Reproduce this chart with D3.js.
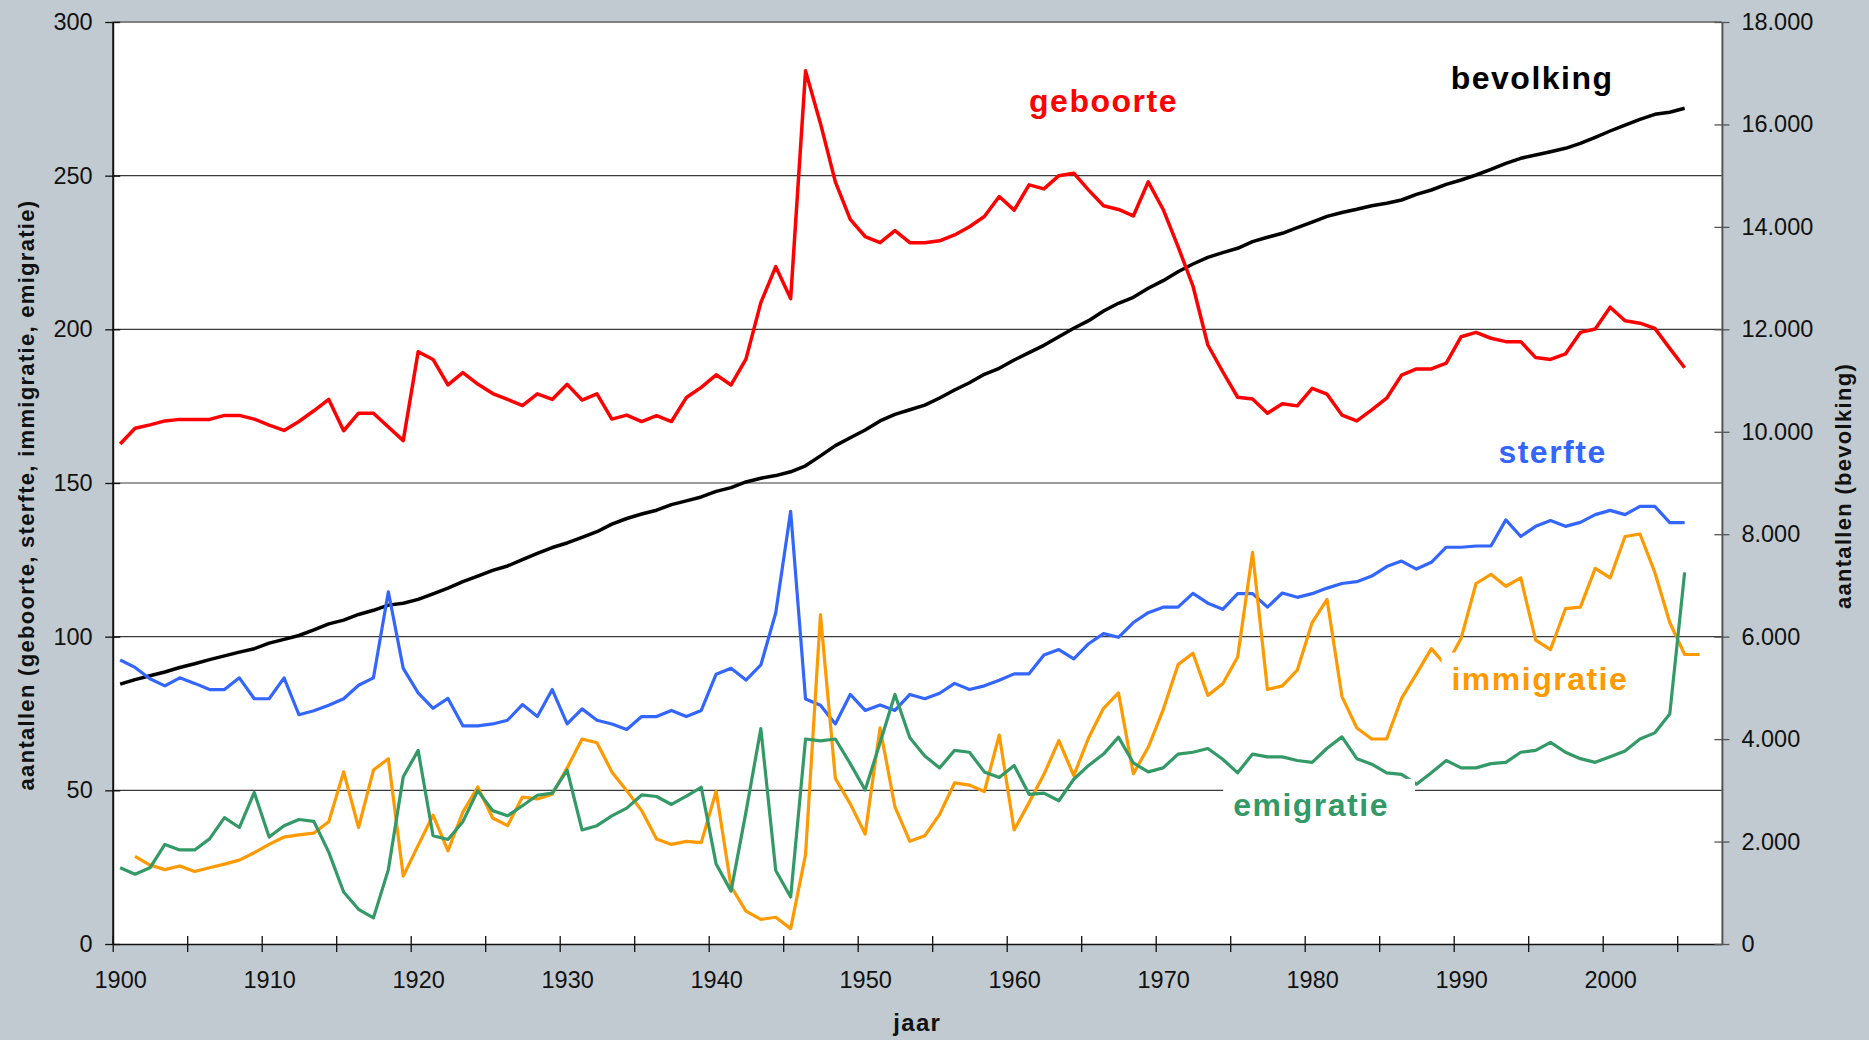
<!DOCTYPE html>
<html>
<head>
<meta charset="utf-8">
<script src="https://cdn.jsdelivr.net/npm/d3@7"></script>
<style>
  body { margin: 0; background: #c0cad0; }
  svg { display: block; font-family: "Liberation Sans", Arial, Helvetica, sans-serif; }
</style>
</head>
<body>
<div id="chart"></div>
<script>
// jaren 1900 t/m 2006 (categorie-as)
const firstYear = 1900;
const lastYear = 2007;

// geboorte, duizendtallen (1900-2005)
const geboorte = [
    162.7, 167.8, 168.9, 170.2, 170.7, 170.7, 170.7, 172.0, 172.0, 170.8,
    168.8, 167.1, 170.0, 173.5, 177.2, 167.0, 172.7, 172.7, 168.2, 163.8,
    192.7, 190.2, 181.9, 185.9, 182.2, 179.1, 177.2, 175.2, 179.0, 177.2,
    182.1, 177.0, 179.0, 170.8, 172.1, 170.0, 171.9, 170.0, 177.8, 181.1,
    185.2, 181.9, 190.3, 208.7, 220.4, 210.0, 284.1, 267.0, 248.0, 235.8,
    230.2, 228.2, 232.1, 228.2, 228.2, 228.8, 230.7, 233.4, 236.7, 243.2,
    238.8, 247.0, 245.7, 250.0, 250.8, 245.3, 240.2, 239.0, 236.9, 248.0,
    239.0, 226.9, 214.1, 194.9, 186.2, 177.9, 177.3, 172.7, 175.8, 175.1,
    180.8, 178.9, 172.1, 170.2, 173.8, 177.6, 185.1, 187.1, 187.1, 189.0,
    197.6, 199.0, 197.1, 196.0, 196.0, 190.8, 190.2, 192.0, 199.0, 200.1,
    207.2, 202.8, 202.0, 200.3, 193.8, 187.5
];

// sterfte (1900-2005)
const sterfte = [
    92.4, 90.0, 86.3, 84.0, 86.6, 84.8, 82.8, 82.8, 86.6, 79.8,
    79.8, 86.6, 74.6, 75.9, 77.7, 79.8, 84.2, 86.6, 114.6, 89.7,
    81.7, 76.7, 79.9, 71.0, 71.0, 71.6, 72.8, 77.9, 74.0, 82.8,
    71.6, 76.5, 72.8, 71.6, 69.8, 74.0, 74.0, 76.0, 74.0, 76.0,
    87.8, 89.7, 85.9, 90.8, 107.8, 140.8, 79.7, 77.7, 71.6, 81.2,
    76.0, 77.8, 76.0, 81.2, 79.8, 81.6, 84.8, 82.8, 84.0, 85.8,
    87.9, 87.9, 94.0, 95.8, 92.8, 97.7, 101.0, 99.8, 104.6, 107.8,
    109.6, 109.6, 114.1, 110.9, 108.9, 114.0, 114.0, 109.6, 114.2, 112.8,
    114.0, 115.8, 117.3, 117.9, 119.7, 122.8, 124.6, 122.0, 124.2, 129.1,
    129.1, 129.5, 129.5, 138.0, 132.6, 135.9, 137.8, 135.9, 137.2, 139.7,
    141.1, 139.7, 142.4, 142.4, 137.1, 137.1
];

// immigratie (1900-2006, geen waarde voor 1900)
const immigratie = [
    null, 28.5, 25.7, 24.2, 25.4, 23.6, 24.8, 26.0, 27.3, 29.7,
    32.4, 34.8, 35.5, 36.1, 39.8, 56.0, 37.9, 56.6, 60.3, 22.1,
    32.1, 41.9, 30.3, 42.9, 51.1, 41.0, 38.5, 47.8, 47.2, 48.7,
    57.3, 66.7, 65.5, 56.0, 49.9, 43.4, 34.2, 32.4, 33.4, 33.0,
    49.7, 18.7, 10.7, 8.0, 8.7, 5.0, 29.1, 107.2, 53.9, 45.6,
    35.8, 70.3, 44.6, 33.4, 35.2, 42.2, 52.4, 51.7, 49.6, 68.0,
    37.1, 46.0, 55.2, 66.2, 54.8, 67.1, 76.7, 81.7, 55.4, 64.0,
    76.2, 90.9, 94.6, 80.9, 84.7, 93.4, 127.4, 82.8, 84.0, 89.1,
    104.6, 112.1, 80.5, 70.3, 66.7, 66.7, 79.9, 87.9, 96.1, 90.5,
    99.5, 117.3, 120.3, 116.4, 119.1, 98.9, 95.8, 109.1, 109.6, 122.2,
    119.1, 132.6, 133.4, 120.9, 104.6, 94.2, 94.2
];

// emigratie (1900-2005)
const emigratie = [
    24.8, 22.7, 24.8, 32.4, 30.6, 30.6, 34.2, 41.1, 37.9, 49.3,
    34.8, 38.5, 40.5, 39.9, 29.9, 16.9, 11.3, 8.5, 24.2, 54.4,
    63.0, 35.2, 34.0, 39.8, 49.9, 43.4, 41.7, 45.0, 48.4, 49.1,
    56.6, 37.1, 38.5, 41.7, 44.2, 48.5, 48.0, 45.4, 48.1, 51.0,
    26.0, 17.2, 42.9, 70.1, 23.9, 15.3, 66.7, 66.1, 66.7, 58.7,
    50.1, 65.5, 81.2, 67.1, 61.2, 57.3, 63.0, 62.4, 56.0, 54.2,
    58.1, 48.7, 49.1, 46.6, 53.6, 58.1, 61.8, 67.3, 58.9, 56.0,
    57.3, 61.8, 62.4, 63.6, 60.1, 55.7, 61.8, 60.9, 60.9, 59.7,
    59.1, 63.7, 67.4, 60.3, 58.5, 55.7, 55.2, 52.0, 55.7, 59.7,
    57.3, 57.3, 58.7, 59.1, 62.4, 63.0, 65.6, 62.4, 60.3, 59.1,
    60.9, 62.8, 66.7, 68.7, 74.8, 120.9
];

// bevolking, duizendtallen (1900-2005)
const bevolking = [
    5074, 5162, 5236, 5310, 5398, 5471, 5552, 5625, 5699, 5765,
    5874, 5948, 6023, 6132, 6249, 6323, 6433, 6515, 6616, 6653,
    6728, 6837, 6948, 7073, 7183, 7294, 7380, 7505, 7624, 7740,
    7829, 7940, 8049, 8198, 8307, 8395, 8469, 8578, 8652, 8727,
    8836, 8910, 9020, 9094, 9145, 9219, 9336, 9530, 9729, 9885,
    10035, 10211, 10341, 10430, 10520, 10660, 10816, 10958, 11122, 11239,
    11401, 11544, 11688, 11857, 12021, 12169, 12358, 12508, 12625, 12801,
    12950, 13125, 13276, 13406, 13497, 13582, 13711, 13797, 13875, 13984,
    14092, 14206, 14281, 14344, 14414, 14461, 14525, 14636, 14720, 14831,
    14916, 15013, 15124, 15241, 15339, 15404, 15468, 15534, 15632, 15749,
    15872, 15989, 16100, 16198, 16237, 16315
];

const xTickLabels = ["1900", "1910", "1920", "1930", "1940", "1950", "1960", "1970", "1980", "1990", "2000"];
const leftTicks = [0, 50, 100, 150, 200, 250, 300];
const rightTicks = [0, 2000, 4000, 6000, 8000, 10000, 12000, 14000, 16000, 18000];
const rightTickLabels = ["0", "2.000", "4.000", "6.000", "8.000", "10.000", "12.000", "14.000", "16.000", "18.000"];

function draw_chart() {

    let width = 1869, height = 1040;
    let plot = {left: 112.7, right: 1721.9, top: 22, bottom: 944};

    let svg = d3.select("#chart")
        .append("svg")
        .attr("width", width)
        .attr("height", height);

    svg.append("rect")
        .attr("width", width)
        .attr("height", height)
        .attr("fill", "#c0cad0");

    // category axis: each year is one slot, points in the middle
    let x = d3.scaleLinear()
        .domain([firstYear, lastYear + 1])
        .range([plot.left, plot.right]);

    let y = d3.scaleLinear()
        .domain([0, 300])
        .range([plot.bottom, plot.top]);

    let y2 = d3.scaleLinear()
        .domain([0, 18000])
        .range([plot.bottom, plot.top]);

    svg.append("rect")
        .attr("x", plot.left)
        .attr("y", plot.top)
        .attr("width", plot.right - plot.left)
        .attr("height", plot.bottom - plot.top)
        .attr("fill", "#ffffff");

    // gridlines
    svg.append("g")
        .selectAll("line")
        .data(leftTicks.filter(d => d > 0))
        .enter()
        .append("line")
        .attr("x1", plot.left)
        .attr("x2", plot.right)
        .attr("y1", d => y(d))
        .attr("y2", d => y(d))
        .attr("stroke", d => d === 300 ? "#808080" : "#3a3a3a")
        .attr("stroke-width", d => d === 300 ? 2 : 1.2);

    // lines
    let series = [
        {name: "bevolking", values: bevolking, color: "#000000", width: 3.5, scale: y2},
        {name: "geboorte", values: geboorte, color: "#ff0000", width: 3.5, scale: y},
        {name: "sterfte", values: sterfte, color: "#3366ff", width: 3.2, scale: y},
        {name: "immigratie", values: immigratie, color: "#ff9900", width: 3.2, scale: y},
        {name: "emigratie", values: emigratie, color: "#339966", width: 3.2, scale: y}
    ];

    series.forEach(function (s) {
        let line = d3.line()
            .defined(d => d != null)
            .x((d, i) => x(firstYear + i + 0.5))
            .y(d => s.scale(d));
        svg.append("path")
            .datum(s.values)
            .attr("fill", "none")
            .attr("stroke", s.color)
            .attr("stroke-width", s.width)
            .attr("stroke-linejoin", "round")
            .attr("d", line);
    });

    // x axis ticks (every 5 years) and labels (decades)
    let xAxis = svg.append("g")
        .attr("transform", "translate(0," + plot.bottom + ")")
        .call(d3.axisBottom(x)
            .tickValues(d3.range(firstYear, 2006, 5))
            .tickFormat("")
            .tickSizeInner(8)
            .tickSizeOuter(0));
    xAxis.selectAll(".tick line").attr("y1", -8).attr("stroke", "#111").attr("stroke-width", 1.3);
    xAxis.select(".domain").attr("stroke", "#111").attr("stroke-width", 1.5);

    let xLabels = svg.append("g")
        .attr("transform", "translate(0," + plot.bottom + ")")
        .call(d3.axisBottom(x)
            .tickValues(xTickLabels.map(d => +d + 0.5))
            .tickFormat(d => String(Math.floor(d)))
            .tickSize(0)
            .tickPadding(27));
    xLabels.select(".domain").remove();
    xLabels.selectAll("text")
        .attr("font-family", "'Liberation Sans', Arial, sans-serif")
        .attr("font-size", 23.5)
        .attr("fill", "#111");

    // left axis
    let leftAxis = svg.append("g")
        .attr("transform", "translate(" + plot.left + ",0)")
        .call(d3.axisLeft(y)
            .tickValues(leftTicks)
            .tickSizeInner(7.5)
            .tickSizeOuter(0)
            .tickPadding(12.5));
    leftAxis.selectAll(".tick line").attr("x1", 7.5).attr("stroke", "#111").attr("stroke-width", 1.3);
    leftAxis.select(".domain").attr("stroke", "#111").attr("stroke-width", 2);
    leftAxis.selectAll("text")
        .attr("font-family", "'Liberation Sans', Arial, sans-serif")
        .attr("font-size", 23.5)
        .attr("fill", "#111");

    // right axis
    let rightAxis = svg.append("g")
        .attr("transform", "translate(" + plot.right + ",0)")
        .call(d3.axisRight(y2)
            .tickValues(rightTicks)
            .tickFormat((d, i) => rightTickLabels[i])
            .tickSizeInner(7.5)
            .tickSizeOuter(0)
            .tickPadding(12));
    rightAxis.selectAll(".tick line").attr("x1", -7.5).attr("stroke", "#555").attr("stroke-width", 1.3);
    rightAxis.select(".domain").attr("stroke", "#555").attr("stroke-width", 2);
    rightAxis.selectAll("text")
        .attr("font-family", "'Liberation Sans', Arial, sans-serif")
        .attr("font-size", 23.5)
        .attr("fill", "#111");

    // axis titles
    svg.append("text")
        .attr("transform", "translate(34," + ((plot.top + plot.bottom) / 2 + 12) + ") rotate(-90)")
        .attr("text-anchor", "middle")
        .attr("font-size", 22)
        .attr("font-weight", "bold")
        .attr("letter-spacing", 1.3)
        .attr("fill", "#111")
        .text("aantallen (geboorte, sterfte, immigratie, emigratie)");

    svg.append("text")
        .attr("transform", "translate(1851,486) rotate(-90)")
        .attr("text-anchor", "middle")
        .attr("font-size", 22)
        .attr("font-weight", "bold")
        .attr("letter-spacing", 1.3)
        .attr("fill", "#111")
        .text("aantallen (bevolking)");

    svg.append("text")
        .attr("x", x(1954.0))
        .attr("y", 1031)
        .attr("text-anchor", "middle")
        .attr("font-size", 24)
        .attr("font-weight", "bold")
        .attr("letter-spacing", 1.3)
        .attr("fill", "#111")
        .text("jaar");

    // series labels, placed in data coordinates, with white box behind
    let labels = [
        {text: "geboorte", year: 1961.5, value: 270.7, color: "#ff0000"},
        {text: "bevolking", year: 1989.8, value: 278.3, color: "#000000"},
        {text: "sterfte", year: 1993.0, value: 156.6, color: "#3366ff"},
        {text: "immigratie", year: 1989.85, value: 82.8, color: "#ff9900"},
        {text: "emigratie", year: 1975.2, value: 41.7, color: "#339966"}
    ];

    labels.forEach(function (l) {
        let g = svg.append("g");
        let box = g.append("rect").attr("fill", "#ffffff");
        let t = g.append("text")
            .attr("x", x(l.year))
            .attr("y", y(l.value))
            .attr("font-size", 32)
            .attr("font-weight", "bold")
            .attr("letter-spacing", 1.5)
            .attr("fill", l.color)
            .text(l.text);
        let len = t.node().getComputedTextLength();
        box.attr("x", x(l.year) - 10)
            .attr("y", y(l.value) - 37)
            .attr("width", len + 36)
            .attr("height", 50);
    });
}

draw_chart();
</script>
</body>
</html>
